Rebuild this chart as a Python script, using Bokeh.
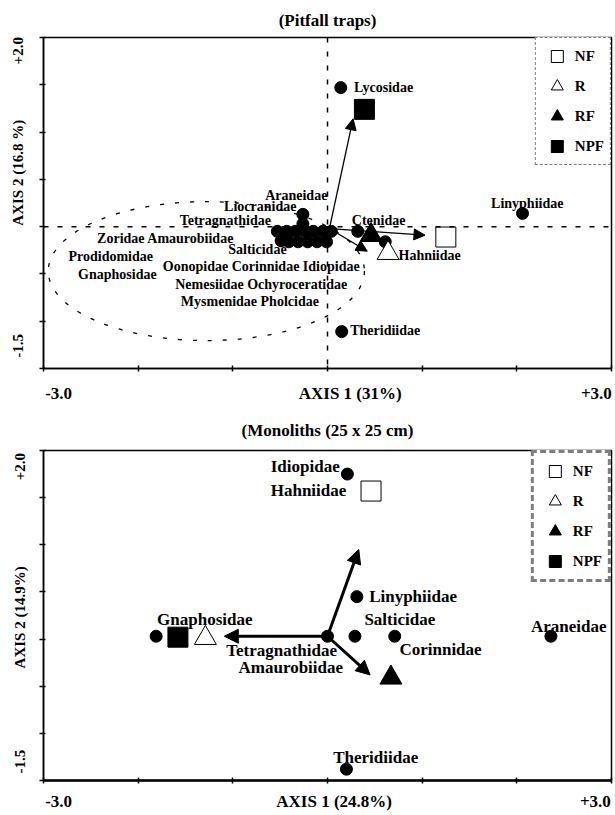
from bokeh.plotting import figure
from bokeh.models import (ColumnDataSource, Range1d, Span, Legend, LegendItem,
                          Arrow, NormalHead, FixedTicker)
from bokeh.layouts import column
from bokeh.core.properties import value
from bokeh.embed import file_html
from bokeh.resources import INLINE

SERIF = "Liberation Serif"

# ---------------- data: pitfall traps ----------------
pit_species_x = [0.14, 2.06, 0.32, 0.61, 0.15,
                 -0.53, -0.43, -0.34, -0.24, -0.15, -0.05, 0.04,
                 -0.41, -0.31, -0.21, -0.11, -0.01, -0.49,
                 -0.26, -0.26]
pit_species_y = [1.47, 0.14, -0.05, -0.16, -1.11,
                 -0.05, -0.05, -0.05, -0.05, -0.05, -0.05, -0.05,
                 -0.16, -0.16, -0.16, -0.16, -0.16, -0.15,
                 0.13, 0.03]
pit_sites = ["NF", "R", "RF", "NPF"]
pit_site_x = [1.25, 0.64, 0.46, 0.39]
pit_site_y = [-0.11, -0.28, -0.09, 1.24]
pit_arrow_x0 = [0.02, 0.02, 0.02]
pit_arrow_y0 = [-0.02, -0.02, -0.02]
pit_arrow_x1 = [1.03, 0.42, 0.27]
pit_arrow_y1 = [-0.09, -0.26, 1.14]
pit_group = dict(x=-1.28, y=-0.47, w=3.34, h=1.47)

pit_lab_c = ["Araneidae", "Liocranidae", "Tetragnathidae", "Ctenidae", "Linyphiidae",
             "Zoridae Amaurobiidae", "Salticidae", "Prodidomidae",
             "Oonopidae Corinnidae Idiopidae", "Gnaphosidae",
             "Nemesiidae Ochyroceratidae", "Mysmenidae Pholcidae"]
pit_lab_c_x = [-0.33, -0.71, -1.08, 0.54, 2.11, -1.71, -0.74, -2.29, -0.70, -2.22, -0.70, -0.82]
pit_lab_c_y = [0.33, 0.21, 0.06, 0.07, 0.24, -0.13, -0.24, -0.32, -0.42, -0.51, -0.61, -0.79]
pit_lab_l = ["Lycosidae", "Hahniidae", "Theridiidae"]
pit_lab_l_x = [0.28, 0.75, 0.24]
pit_lab_l_y = [1.47, -0.30, -1.10]

# ---------------- data: monoliths ----------------
mon_species_x = [0.21, 0.31, -1.81, 0.0, 0.29, 0.71, 2.36, 0.20]
mon_species_y = [1.75, 0.45, 0.03, 0.03, 0.03, 0.03, 0.03, -1.38]
mon_sites = ["NF", "R", "RF", "NPF"]
mon_site_x = [0.46, -1.29, 0.67, -1.58]
mon_site_y = [1.57, 0.01, -0.41, 0.02]
mon_arrow_x0 = [0.0, 0.0, 0.0]
mon_arrow_y0 = [0.03, 0.03, 0.03]
mon_arrow_x1 = [0.33, -1.09, 0.45]
mon_arrow_y1 = [0.95, 0.03, -0.38]

mon_lab = ["Idiopidae", "Hahniidae", "Linyphiidae", "Gnaphosidae", "Salticidae",
           "Araneidae", "Tetragnathidae", "Amaurobiidae", "Corinnidae", "Theridiidae"]
mon_lab_x = [-0.60, -0.60, 0.44, -1.80, 0.39, 2.15, -1.07, -0.94, 0.76, 0.06]
mon_lab_y = [1.83, 1.58, 0.45, 0.21, 0.21, 0.13, -0.12, -0.30, -0.11, -1.26]

# ticks (marks) and the axis texts that sit beside them
x_ticks = [-3, -2, -1, 0, 1, 2, 3]
y_ticks = [-1.5, -1.0, -0.5, 0.0, 0.5, 1.0, 1.5, 2.0]
pit_x_text = {-2.84: "-3.0", 0.24: "AXIS 1 (31%)", 2.84: "+3.0"}
pit_y_text = {-1.26: "-1.5", 0.57: "AXIS 2 (16.8 %)", 1.86: "+2.0"}
mon_x_text = {-2.84: "-3.0", 0.07: "AXIS 1 (24.8%)", 2.83: "+3.0"}
mon_y_text = {-1.30: "-1.5", 0.23: "AXIS 2 (14.9%)", 1.83: "+2.0"}

site_marker = {"NF": "square", "R": "triangle", "RF": "triangle", "NPF": "square"}
site_fill = {"NF": "white", "R": "white", "RF": "black", "NPF": "black"}
site_size = {"NF": 20, "R": 22, "RF": 22, "NPF": 20}


def base_fig(h, left, right, top, bottom, title, title_offset, title_standoff,
             x_text, y_text, x_standoff, y_standoff, axis_w):
    p = figure(width=615, height=h, x_range=Range1d(-3, 3), y_range=Range1d(-1.5, 2.0),
               output_backend="svg", toolbar_location=None,
               min_border_left=left, min_border_right=right, min_border_top=top,
               min_border_bottom=bottom, title=title)
    p.title.align = "center"
    p.title.offset = title_offset
    p.title.standoff = title_standoff
    p.title.text_font = SERIF
    p.title.text_font_style = "bold"
    p.title.text_font_size = "17px"
    p.title.text_color = "black"
    p.grid.visible = False
    p.outline_line_color = "black"
    p.outline_line_width = 1.5
    p.background_fill_color = "white"
    p.border_fill_color = "white"
    p.xaxis.ticker = FixedTicker(ticks=list(x_text.keys()), minor_ticks=x_ticks)
    p.yaxis.ticker = FixedTicker(ticks=list(y_text.keys()), minor_ticks=y_ticks)
    p.xaxis.major_label_overrides = x_text
    p.yaxis.major_label_overrides = y_text
    for ax in (p.xaxis, p.yaxis):
        ax.major_tick_line_color = None
        ax.major_tick_in = 0
        ax.major_tick_out = 0
        ax.minor_tick_line_color = "black"
        ax.minor_tick_line_width = 1.5
        ax.axis_line_color = "black"
        ax.major_label_text_font = SERIF
        ax.major_label_text_font_style = "bold"
        ax.major_label_text_color = "black"
    p.xaxis.major_label_text_font_size = "17px"
    p.yaxis.major_label_text_font_size = "15px"
    p.yaxis.major_label_orientation = "vertical"
    p.xaxis.major_label_standoff = x_standoff
    p.yaxis.major_label_standoff = y_standoff
    p.xaxis.axis_line_width = axis_w
    p.yaxis.axis_line_width = 1.5
    p.xaxis.minor_tick_in = 3
    p.xaxis.minor_tick_out = 3
    p.yaxis.minor_tick_in = 2
    p.yaxis.minor_tick_out = 4
    return p


def add_sites(p, names, xs, ys, border_w, border_dash):
    items = []
    for n, x, y in zip(names, xs, ys):
        r = p.scatter(x=[x], y=[y], marker=site_marker[n], size=site_size[n],
                      fill_color=site_fill[n], line_color="black", line_width=1)
        items.append(LegendItem(label=n, renderers=[r]))
    leg = Legend(items=items, location="top_right", glyph_width=30, glyph_height=30,
                 spacing=0, padding=(6, 3), label_standoff=3, margin=0,
                 border_line_color="black", border_line_width=border_w,
                 border_line_dash=border_dash, background_fill_color="white",
                 background_fill_alpha=1.0, label_text_color="black",
                 label_text_font=SERIF, label_text_font_style="bold",
                 label_text_font_size="15px")
    p.add_layout(leg)


# ---------------- top figure ----------------
p1 = base_fig(405, 43, 4, 37, 34, "(Pitfall traps)", 34, 16,
              pit_x_text, pit_y_text, 12, 13, 1.5)
p1.add_layout(Span(location=0, dimension="height", line_color="black",
                   line_dash="5 9", line_width=1.5))
p1.add_layout(Span(location=0, dimension="width", line_color="black",
                   line_dash="5 9", line_width=1.5))
p1.ellipse(x=[pit_group["x"]], y=[pit_group["y"]], width=[pit_group["w"]],
           height=[pit_group["h"]], fill_color=None, line_color="black",
           line_dash="4 11", line_width=1.3)
p1.scatter(x=pit_species_x, y=pit_species_y, marker="circle", size=12,
           fill_color="black", line_color="black")
p1.add_layout(Arrow(end=NormalHead(size=11, fill_color="black", line_color="black"),
                    line_width=1.3, line_color="black",
                    source=ColumnDataSource(dict(x0=pit_arrow_x0, y0=pit_arrow_y0,
                                                 x1=pit_arrow_x1, y1=pit_arrow_y1)),
                    x_start="x0", y_start="y0", x_end="x1", y_end="y1"))
add_sites(p1, pit_sites, pit_site_x, pit_site_y, 1.5, "4 10")
p1.text(x=pit_lab_c_x, y=pit_lab_c_y, text=pit_lab_c, text_align="center",
        text_baseline="middle", text_font=value(SERIF), text_font_style="bold",
        text_font_size="14px", text_color="black")
p1.text(x=pit_lab_l_x, y=pit_lab_l_y, text=pit_lab_l, text_align="left",
        text_baseline="middle", text_font=value(SERIF), text_font_style="bold",
        text_font_size="14px", text_color="black")

# ---------------- bottom figure ----------------
p2 = base_fig(408, 38, 2, 45, 31, "(Monoliths (25 x 25 cm)", 25, 21,
              mon_x_text, mon_y_text, 8, 11, 2.5)
p2.scatter(x=mon_species_x, y=mon_species_y, marker="circle", size=12,
           fill_color="black", line_color="black")
p2.add_layout(Arrow(end=NormalHead(size=14, fill_color="black", line_color="black"),
                    line_width=3, line_color="black",
                    source=ColumnDataSource(dict(x0=mon_arrow_x0, y0=mon_arrow_y0,
                                                 x1=mon_arrow_x1, y1=mon_arrow_y1)),
                    x_start="x0", y_start="y0", x_end="x1", y_end="y1"))
add_sites(p2, mon_sites, mon_site_x, mon_site_y, 3, "6 2")
p2.text(x=mon_lab_x, y=mon_lab_y, text=mon_lab, text_align="left",
        text_baseline="middle", text_font=value(SERIF), text_font_style="bold",
        text_font_size="17px", text_color="black")

layout = column(p1, p2)
open("out.html", "w").write(file_html(layout, INLINE))
